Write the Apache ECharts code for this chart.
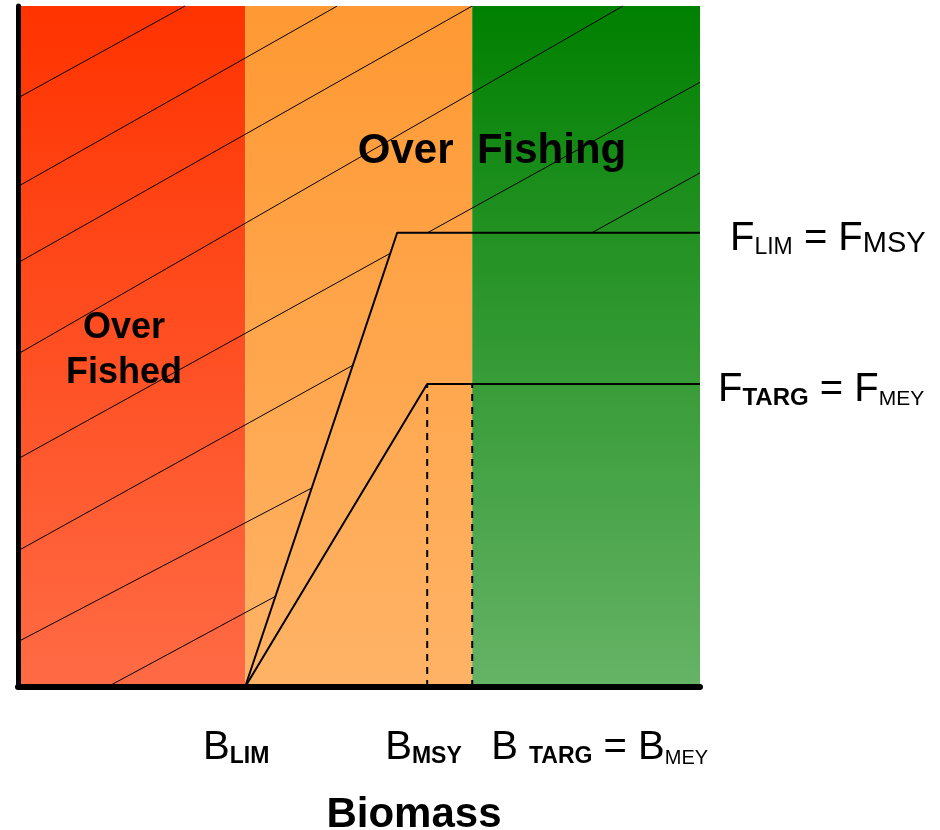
<!DOCTYPE html>
<html><head><meta charset="utf-8">
<script src="https://cdn.jsdelivr.net/npm/echarts@6/dist/echarts.min.js"></script>
<style>html,body{margin:0;padding:0;background:#fff}#c{width:940px;height:830px}</style>
</head><body><div id="c"></div>
<script>
// ---- data ----
const zoneStarts = [0, 33.3, 66.6];
const zoneEnds = [33.3, 66.6, 100];
const zoneTopColors = ['#FF3300', '#FF9933', '#008000'];
const zoneBottomColors = ['#FF6B45', '#FFB366', '#66B366'];
const limRuleB = [33.3, 55.6, 100];
const limRuleF = [0, 66.7, 66.7];
const targRuleB = [33.3, 60, 100];
const targRuleF = [0, 44.5, 44.5];
const refLineB = [60, 66.6];
const refLineF = [44.5, 44.5];
const hatchIntercepts = [86.5, 73.5, 62.3, 48.9, 33.5, 20.0, 6.65, -7.07];
const hatchSlopes = [0.551, 0.566, 0.566, 0.576, 0.553, 0.555, 0.524, 0.54];
const bTickValues = [33.3, 60, 66.6];
const bTickLabels = ['{m|B}{s|LIM}', '{m|B}{s|MSY}', '{m|B }{s|TARG}{m| = B}{r|MEY}'];
const fLabelValues = [66.7, 44.5];
const fLabelTexts = ['{m|F}{s|LIM}{m| = F}{r|MSY}', '{m|F}{s|TARG}{m| = F}{r|MEY}'];
const xTitle = 'Biomass';
const zoneTitles = ['Over\nFished', 'Over  Fishing'];

const FF = '"Liberation Sans", Arial, sans-serif';
const chart = echarts.init(document.getElementById('c'), null, {renderer: 'canvas'});

function limBoundary(x) {
  if (x <= limRuleB[0]) return limRuleF[0];
  for (let i = 0; i < limRuleB.length - 1; i++) {
    if (x <= limRuleB[i + 1]) {
      const t = (x - limRuleB[i]) / (limRuleB[i + 1] - limRuleB[i]);
      return limRuleF[i] + t * (limRuleF[i + 1] - limRuleF[i]);
    }
  }
  return limRuleF[limRuleF.length - 1];
}

const zoneData = zoneStarts.map((s, i) => [s, zoneEnds[i], i]);
const hatchData = hatchIntercepts.map((c, i) => [c, hatchSlopes[i]]);

chart.setOption({
  animation: false,
  grid: {left: 18, top: 6, right: 240, bottom: 143, containLabel: false},
  xAxis: {type: 'value', min: 0, max: 100, z: 10,
    axisLine: {show: true, onZero: false, lineStyle: {color: '#000', width: 6}},
    axisTick: {show: false}, axisLabel: {show: false}, splitLine: {show: false}},
  yAxis: {type: 'value', min: 0, max: 100, z: 10,
    axisLine: {show: true, onZero: false, lineStyle: {color: '#000', width: 5}},
    axisTick: {show: false}, axisLabel: {show: false}, splitLine: {show: false}},
  series: [
    {type: 'custom', z: 1, silent: true, data: zoneData,
      renderItem: function (params, api) {
        const i = api.value(2);
        const p0 = api.coord([api.value(0), 100]);
        const p1 = api.coord([api.value(1), 0]);
        return {type: 'rect', shape: {x: p0[0], y: p0[1], width: p1[0] - p0[0], height: p1[1] - p0[1]},
          style: {fill: new echarts.graphic.LinearGradient(0, 0, 0, 1, [
            {offset: 0, color: zoneTopColors[i]}, {offset: 1, color: zoneBottomColors[i]}])}};
      }},
    {type: 'custom', z: 2, silent: true, data: hatchData,
      renderItem: function (params, api) {
        const c = api.value(0), s = api.value(1);
        const segs = [];
        let start = null;
        const N = 5000;
        for (let k = 0; k <= N; k++) {
          const x = 100 * k / N;
          const y = c + s * x;
          const inside = y >= limBoundary(x) && y <= 100 && y >= 0;
          if (inside && start === null) start = x;
          if (!inside && start !== null) { segs.push([start, 100 * (k - 1) / N]); start = null; }
        }
        if (start !== null) segs.push([start, 100]);
        return {type: 'group', children: segs.map(function (sg) {
          const p1 = api.coord([sg[0], c + s * sg[0]]);
          const p2 = api.coord([sg[1], c + s * sg[1]]);
          return {type: 'line', shape: {x1: p1[0], y1: p1[1], x2: p2[0], y2: p2[1]},
            style: {stroke: '#000', lineWidth: 1}};
        })};
      }},
    {type: 'line', z: 3, silent: true, symbol: 'none',
      data: limRuleB.map((b, i) => [b, limRuleF[i]]),
      lineStyle: {color: '#000', width: 2}},
    {type: 'line', z: 3, silent: true, symbol: 'none',
      data: targRuleB.map((b, i) => [b, targRuleF[i]]),
      lineStyle: {color: '#000', width: 2}},
    {type: 'line', z: 3, silent: true, symbol: 'none',
      data: [[refLineB[0], 0], [refLineB[0], refLineF[0]]],
      lineStyle: {color: '#000', width: 2, type: [7, 6]}},
    {type: 'line', z: 3, silent: true, symbol: 'none',
      data: [[refLineB[1], 0], [refLineB[1], refLineF[1]]],
      lineStyle: {color: '#000', width: 2, type: [7, 6]}}
  ]
});

function px(v) { return chart.convertToPixel({xAxisIndex: 0, yAxisIndex: 0}, v); }

const bottomRich = {
  m: {fontFamily: FF, fontSize: 40, lineHeight: 40, verticalAlign: 'bottom', fill: '#000'},
  s: {fontFamily: FF, fontSize: 23, fontWeight: 'bold', lineHeight: 21, verticalAlign: 'bottom', fill: '#000'},
  r: {fontFamily: FF, fontSize: 20, lineHeight: 20, verticalAlign: 'bottom', fill: '#000'}
};
const rightRich = [
  {m: {fontFamily: FF, fontSize: 40, lineHeight: 40, verticalAlign: 'bottom', fill: '#000'},
   s: {fontFamily: FF, fontSize: 23, lineHeight: 24, verticalAlign: 'bottom', fill: '#000'},
   r: {fontFamily: FF, fontSize: 29, lineHeight: 28, verticalAlign: 'bottom', fill: '#000'}},
  {m: {fontFamily: FF, fontSize: 40, lineHeight: 40, verticalAlign: 'bottom', fill: '#000'},
   s: {fontFamily: FF, fontSize: 24, fontWeight: 'bold', lineHeight: 9, verticalAlign: 'bottom', fill: '#000'},
   r: {fontFamily: FF, fontSize: 21, lineHeight: 25, verticalAlign: 'bottom', fill: '#000'}}
];
const bOffsets = [-42, -42, 19];
const graphics = [];
bTickValues.forEach(function (b, i) {
  const p = px([b, 0]);
  graphics.push({type: 'text', z: 100, silent: true, x: p[0] + bOffsets[i], y: 768,
    style: {text: bTickLabels[i], rich: bottomRich, align: 'left', verticalAlign: 'bottom', fill: '#000'}});
});
const fX = [730, 718];
fLabelValues.forEach(function (f, i) {
  const p = px([100, f]);
  graphics.push({type: 'text', z: 100, silent: true, x: fX[i], y: p[1] + 26,
    style: {text: fLabelTexts[i], rich: rightRich[i], align: 'left', verticalAlign: 'bottom', fill: '#000'}});
});
graphics.push({type: 'text', z: 100, silent: true, x: 414, y: 815,
  style: {text: xTitle, fontFamily: FF, fontSize: 42, fontWeight: 'bold', align: 'center', verticalAlign: 'middle', fill: '#000'}});
graphics.push({type: 'text', z: 100, silent: true, x: 124, y: 351,
  style: {text: zoneTitles[0], fontFamily: FF, fontSize: 36, fontWeight: 'bold', lineHeight: 45, align: 'center', verticalAlign: 'middle', fill: '#000'}});
graphics.push({type: 'text', z: 100, silent: true, x: 492, y: 151,
  style: {text: zoneTitles[1], fontFamily: FF, fontSize: 42, fontWeight: 'bold', align: 'center', verticalAlign: 'middle', fill: '#000'}});
chart.setOption({graphic: graphics});
</script></body></html>
